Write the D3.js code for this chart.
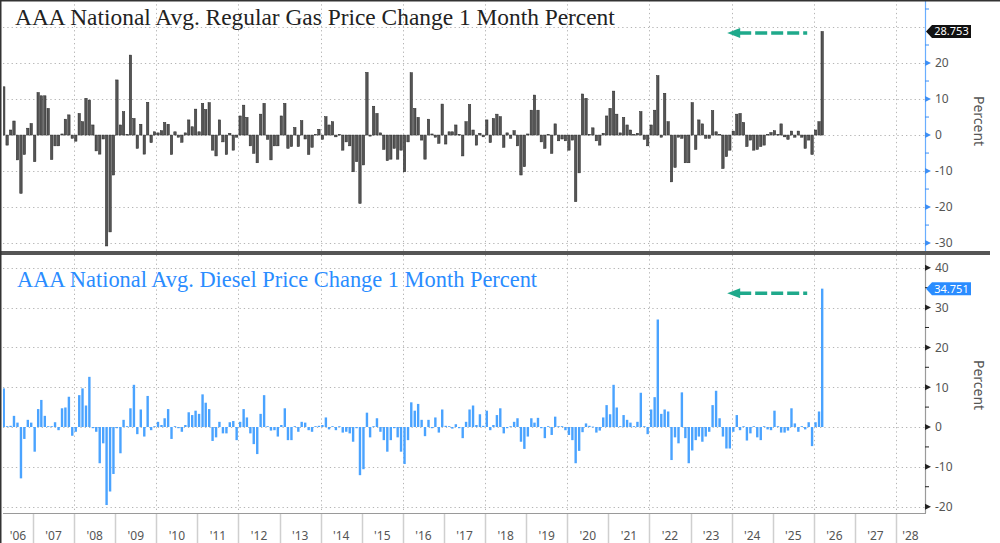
<!DOCTYPE html>
<html>
<head>
<meta charset="utf-8">
<title>AAA gas and diesel 1 month change</title>
<style>
  body { margin: 0; background: #fff; }
  svg { display: block; }
</style>
</head>
<body>
<svg width="1000" height="543" id="chart"></svg>
<script src="https://d3js.org/d3.v7.min.js"></script>
<script>

// monthly % change, Apr 2006 .. Mar 2026
var gasChange = [
  13.4, -2.8, 1.4, 3.9, -6.9, -16.2, -5.4, 1.9, 3.2,                 // 2006 Apr-Dec
  -7.4, 11.8, 10.9, 10.9, 7.4, -6.8, -3, -3, 0.3, 4.4, 5.6, -0.9,     // 2007
  -1.7, 6, 3.7, 10.2, 9.7, 2.8, -4.4, -5.3, -1.1, -30.8, -26.9, -11.1,// 2008
  15.3, 2.8, 6.5, 0.2, 22.2, 4.6, -3.7, 3, -5.3, 9.1, -2.1, 0.9,      // 2009
  0.6, 1.2, 3.5, 3, -5.4, 0.9, -0.6, -2, 0.6, 4.2, 2.3, 7.2,          // 2010
  0.9, 8.8, 7.1, 9, -4.2, -5.8, 4.2, -1.9, -5.4, 0.5, -4.2, -0.6,     // 2011
  5.3, 8.3, 4.9, -3, -5.1, -7.7, 5.8, 8.8, -1.2, -6.9, -3, -3,        // 2012
  5.3, 8.8, -3.7, -3.2, 2.1, -3.2, 4, -1.1, -5.4, -3.4, 0.2, 1.6,     // 2013
  -1.2, 5.1, 2.8, 3.7, -0.5, 0.2, -4.2, -1.9, -3, -10.2, -7.4, -19,   // 2014
  -8.3, 17.4, -0.3, 8, 6, 0.6, -4, -7.1, -6.7, -3.7, -6.7, -4.2,      // 2015
  -10.2, -1.9, 17.3, 7.4, 4.9, -1.4, -6.7, 4.4, 0.3, -0.6, -2.3, 8.6, // 2016
  -2.5, 0.9, 0.9, 2.8, 0.2, -5.8, 3.7, 8.5, 1.4, -2.8, 0.5, -0.5,     // 2017
  4.2, -2.1, 4.6, 5.8, 5.1, -3.4, 0.6, -0.9, 1.2, -3, -11.1, -8.8,    // 2018
  0.3, 6.9, 11.1, 6.9, -1.9, -3.7, 0.2, -5.1, 3.1, -1.6, -1.1, -1.6,  // 2019
  -4.2, -1.4, -18.5, -10.5, 11.4, 10.2, 0.2, 2, -1.6, -2.8, 0.5, 5.3, // 2020
  7.4, 12.2, 5.8, 0.6, 4.9, 2.8, 1.4, 0.2, 0.5, 6.5, -1.2, -3,        // 2021
  2.8, 6.9, 16.5, -0.6, 11.6, 3.7, -13, -9, -0.6, -0.9, -7.7, -7.7,   // 2022
  9, -4, 4.2, 3.1, -0.9, -0.9, 6.8, 0.9, 0.2, -9.3, -6, -4.2,         // 2023
  1.1, 5.8, 6, 3.5, -3.2, -1.4, -4.2, -4, -3.2, -2.8, 0.2, 0.7,       // 2024
  1.2, 0.2, 3.1, -0.5, -1.2, 1.1, -0.6, 1.1, -0.6, -3.7, -1.4, -5.4,  // 2025
  1.4, 3.7, 28.753                                                    // 2026 Jan-Mar
];

var dieselChange = [
  9.7, 0.2, 0.3, 2.8, 1.1, -12.9, -3, 1.8, 1.1,                      // 2006 Apr-Dec
  -6.2, 4.5, 6.8, 2.8, 0.2, 0.2, 1.2, -0.8, 4.7, 4.9, 7.6, -2.2,      // 2007
  -1.2, 8, 9.7, 5.4, 12.6, -0.3, -1.2, -9.1, -4.1, -19.6, -16.2, -11.8,// 2008
  -0.3, -6.6, 1.8, 0.2, 4.7, 10.6, -1.8, 4.4, -2.4, 7.8, -0.8, 0.2,   // 2009
  1.3, 0.5, 2.2, 4.5, -3, 0.2, -0.3, -1.2, 0.5, 3.7, 3, 4.1,          // 2010
  3.3, 8.2, 6.1, 4.5, -3.5, -2.6, 1.3, -1.6, -1.6, 1.2, 1.5, -3.3,    // 2011
  1.3, 4.5, 2.4, -1.6, -4.3, -6.8, 3.3, 8, 0.2, -0.9, -0.8, -2.4,     // 2012
  0.5, 4.7, -3.3, -3.3, 0.2, -1.2, 1.3, 1.1, -0.8, -1.2, 0.2, 0.3,    // 2013
  0.5, 2.4, -0.6, 0.2, -0.8, 0.2, -1.4, -1.2, -1.6, -3.7, -0.3, -12.1,// 2014
  -10.6, 3.6, -2.6, 0.2, 2.2, -1.2, -3.3, -6.2, -3.3, -0.3, -2.6, -6.2,// 2015
  -9.3, -3.3, 6.2, 4.1, 5.8, 1.8, -2.3, 1.8, -0.3, 2.4, -1.4, 4.4,    // 2016
  0.3, 0.2, -0.4, 0.7, -0.3, -2.8, 1.3, 4.4, 5.4, 0.5, 3.2, 0.3,      // 2017
  4.1, -0.8, 0.5, 3, 4.7, -1.6, -0.3, 0.2, 1.3, 2.2, -3.7, -5.5,      // 2018
  -2.4, 2.2, 1.1, 2.3, -0.3, -2.8, 0.2, -2, 2.6, 0.2, 0.2, -0.8,      // 2019
  -2, -3.3, -9.1, -6, -1.3, 0.9, 0.3, 0.1, -1.4, -0.9, 2.4, 5.5,      // 2020
  3.2, 10.6, 4.9, 0.2, 3, 1.8, 1.1, 0.2, 1.3, 8.6, 0.2, -1.8,         // 2021
  4.4, 7.5, 27, 3.3, 4.4, 3.9, -8.3, -2.6, -4.1, 8.7, -2.8, -9.1,     // 2022
  -5.9, -3.3, -2.4, -3.7, -2.4, -1.2, 5.5, 9.1, 2.2, -2.4, -5.4, -5.4,// 2023
  -1.2, 3, -0.8, 0.2, -3.4, -1.6, 0.2, -2.6, -3.3, 0.2, -0.6, -0.8,   // 2024
  4.1, 0.2, -1.4, -1.4, -0.9, 4.7, 0.9, -1.2, 0.2, -0.6, 1.2, -4.8,   // 2025
  1.2, 3.9, 34.751                                                    // 2026 Jan-Mar
];

var gasTicks = [-30, -20, -10, 0, 10, 20];
var gasGrid = [-30, -20, -10, 0, 10, 20, 30];
var dieselTicks = [-20, -10, 0, 10, 20, 30, 40];
var yearLabels = ["'06","'07","'08","'09","'10","'11","'12","'13","'14","'15","'16",
                  "'17","'18","'19","'20","'21","'22","'23","'24","'25","'26","'27","'28"];
var gasTitle = "AAA National Avg. Regular Gas Price Change 1 Month Percent";
var dieselTitle = "AAA National Avg. Diesel Price Change 1 Month Percent";

var svg = d3.select("#chart");
var left = 3, right = 925;
var sans = "'Noto Sans', 'DejaVu Sans', sans-serif";
var serif = "'Liberation Serif', 'Times New Roman', serif";

var months = d3.timeMonth.range(new Date(2006, 3, 1), new Date(2026, 3, 1));
var gasData = months.map(function(m, i) { return {date: m, value: gasChange[i]}; });
var dieselData = months.map(function(m, i) { return {date: m, value: dieselChange[i]}; });

var x = d3.scaleTime()
    .domain([new Date(2007, 0, 1), new Date(2028, 0, 1)])
    .range([33, 896]);

var yGas = d3.scaleLinear().domain([-32.2, 36.5]).range([251, 3.6]);
var yDiesel = d3.scaleLinear().domain([-21.6, 42.7]).range([513, 257]);

function mid(d) { return x(d3.timeDay.offset(d, 15)); }

// clip paths for the two panels
var defs = svg.append("defs");
defs.append("clipPath").attr("id", "clipTop").append("rect")
    .attr("x", left).attr("y", 0).attr("width", right - left).attr("height", 251);
defs.append("clipPath").attr("id", "clipBot").append("rect")
    .attr("x", left).attr("y", 255).attr("width", right - left).attr("height", 258);

var evenYears = d3.timeYear.every(2).range(new Date(2008, 0, 1), new Date(2029, 0, 1));

function drawPanel(opt) {
  var g = svg.append("g");
  var grid = g.append("g").attr("stroke", "#b5b5b5").attr("stroke-width", 1)
      .attr("stroke-dasharray", "1.3,3");
  grid.selectAll(".hg").data(opt.grid).enter().append("line")
      .attr("x1", left).attr("x2", right)
      .attr("y1", function(d) { return Math.round(opt.y(d)) + 0.5; })
      .attr("y2", function(d) { return Math.round(opt.y(d)) + 0.5; });
  grid.selectAll(".vg").data(evenYears).enter().append("line")
      .attr("x1", function(d) { return Math.round(x(d)) + 0.5; })
      .attr("x2", function(d) { return Math.round(x(d)) + 0.5; })
      .attr("y1", opt.top).attr("y2", opt.bottom);

  g.append("g").attr("clip-path", "url(#" + opt.clip + ")")
    .selectAll("rect").data(opt.data).enter().append("rect")
      .attr("x", function(d) { return mid(d.date) - 1.2; })
      .attr("width", 2.4)
      .attr("y", function(d) { return opt.y(Math.max(0, d.value)); })
      .attr("height", function(d) { return Math.max(0.8, Math.abs(opt.y(d.value) - opt.y(0))); })
      .attr("fill", opt.fill)
      .attr("stroke", opt.stroke)
      .attr("stroke-width", opt.stroke ? 0.5 : 0);

  // right axis
  g.append("line").attr("x1", right + 0.5).attr("x2", right + 0.5)
      .attr("y1", opt.axisTop).attr("y2", opt.bottom)
      .attr("stroke", opt.axisColor).attr("stroke-width", 1.2);
  var minor = d3.range(-35, 45, 10).filter(function(v) {
    return opt.y(v) > opt.top + 2 && opt.y(v) < opt.bottom - 2;
  });
  g.selectAll(".mt").data(minor).enter().append("line")
      .attr("x1", right).attr("x2", right + 4)
      .attr("y1", function(d) { return opt.y(d); })
      .attr("y2", function(d) { return opt.y(d); })
      .attr("stroke", opt.tickColor).attr("stroke-width", 1);
  g.selectAll(".tri").data(opt.ticks).enter().append("path")
      .attr("d", function(d) {
        var yy = opt.y(d);
        return "M" + right + "," + (yy - 3) + "L" + (right + 6) + "," + yy + "L" + right + "," + (yy + 3) + "Z";
      })
      .attr("fill", opt.tickColor);
  g.selectAll(".tl").data(opt.ticks).enter().append("text")
      .attr("x", right + 10).attr("y", function(d) { return opt.y(d); })
      .attr("dy", "0.36em")
      .attr("font-family", sans).attr("font-size", 12).attr("fill", "#555")
      .text(function(d) { return d; });
  g.append("text")
      .attr("transform", "translate(974," + opt.labelY + ") rotate(90)")
      .attr("text-anchor", "middle")
      .attr("font-family", sans).attr("font-size", 14).attr("fill", "#555")
      .text("Percent");

  // title
  g.append("text")
      .attr("x", opt.titleX).attr("y", opt.titleY)
      .attr("font-family", serif).attr("font-size", opt.titleSize)
      .attr("fill", opt.titleColor)
      .text(opt.title);

  // last value callout
  var last = opt.data[opt.data.length - 1];
  var yc = opt.y(last.value);
  g.append("path")
      .attr("d", "M" + (right + 1) + "," + yc + "L" + (right + 7) + "," + (yc - 6.5) +
                 "L" + (right + 46) + "," + (yc - 6.5) + "L" + (right + 46) + "," + (yc + 6.5) +
                 "L" + (right + 7) + "," + (yc + 6.5) + "Z")
      .attr("fill", opt.calloutFill);
  g.append("text")
      .attr("x", right + 26.5).attr("y", yc).attr("dy", "0.36em")
      .attr("text-anchor", "middle")
      .attr("font-family", sans).attr("font-size", 11).attr("fill", "#fff")
      .text(opt.lastLabel);

  // dashed green arrow pointing at the last bar
  var tail = mid(last.date) - 15, tip = mid(last.date) - 95, ya = yc + opt.arrowDy;
  g.append("line")
      .attr("x1", tip + 12).attr("x2", tail).attr("y1", ya).attr("y2", ya)
      .attr("stroke", "#1fa98b").attr("stroke-width", 3.5)
      .attr("stroke-dasharray", "12,4");
  g.append("path")
      .attr("d", "M" + tip + "," + ya + "L" + (tip + 13) + "," + (ya - 5) + "L" + (tip + 13) + "," + (ya + 5) + "Z")
      .attr("fill", "#1fa98b");
}

drawPanel({
  data: gasData, y: yGas, grid: gasGrid, ticks: gasTicks,
  top: 0, bottom: 251, axisTop: 0, clip: "clipTop",
  fill: "#555", stroke: "#262626",
  axisColor: "#6aaeff", tickColor: "#3d8ff5", labelY: 121,
  title: gasTitle, titleX: 15, titleY: 25, titleSize: 23.4, titleColor: "#222",
  calloutFill: "#111", lastLabel: "28.753", arrowDy: 1.5
});

drawPanel({
  data: dieselData, y: yDiesel, grid: dieselTicks, ticks: dieselTicks,
  top: 255, bottom: 513, axisTop: 255, clip: "clipBot",
  fill: "#4aa3ff", stroke: null,
  axisColor: "#9a9a9a", tickColor: "#222", labelY: 385,
  title: dieselTitle, titleX: 17, titleY: 287, titleSize: 22.4, titleColor: "#2a8cff",
  calloutFill: "#2a8cff", lastLabel: "34.751", arrowDy: 4.5
});

// bottom frame of lower panel
svg.append("line").attr("x1", left).attr("x2", right + 1)
    .attr("y1", 513.5).attr("y2", 513.5)
    .attr("stroke", "#9a9a9a").attr("stroke-width", 1.2);

// thick separator between panels
svg.append("rect").attr("x", 0).attr("y", 251).attr("width", 990).attr("height", 4)
    .attr("fill", "#555");

// outer frame (left + top)
svg.append("rect").attr("x", 0).attr("y", 0).attr("width", 1.5).attr("height", 543).attr("fill", "#333");
svg.append("rect").attr("x", 0).attr("y", 0).attr("width", 1000).attr("height", 1.5).attr("fill", "#333");

// x axis: year separators and labels
var years = d3.timeYear.range(new Date(2006, 0, 1), new Date(2029, 0, 1));
svg.append("g").selectAll("line").data(years.slice(1, 23)).enter().append("line")
    .attr("x1", function(d) { return Math.round(x(d)) + 0.5; })
    .attr("x2", function(d) { return Math.round(x(d)) + 0.5; })
    .attr("y1", 514).attr("y2", 543)
    .attr("stroke", "#cfcfcf").attr("stroke-width", 1.5);
svg.append("g").selectAll("text").data(years.slice(0, 23)).enter().append("text")
    .attr("x", function(d) {
      var a = Math.max(left, x(d)), b = Math.min(right, x(d3.timeYear.offset(d, 1)));
      return (a + b) / 2;
    })
    .attr("y", 540)
    .attr("text-anchor", "middle")
    .attr("font-family", sans).attr("font-size", 12).attr("fill", "#555")
    .text(function(d, i) { return yearLabels[i]; });

</script>
</body>
</html>
